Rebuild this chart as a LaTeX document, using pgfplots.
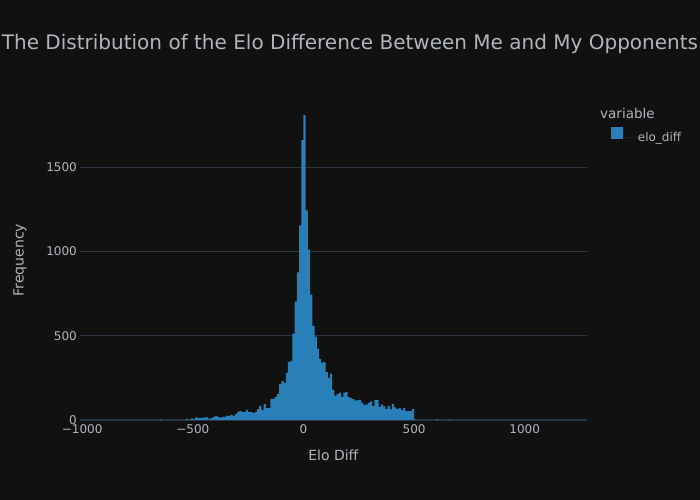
\documentclass[border=0pt]{standalone}
\usepackage{fontspec}
\setmainfont{DejaVu Sans}
\usepackage{pgfplots}
\pgfplotsset{compat=1.18}
\definecolor{bg}{HTML}{111111}
\definecolor{gridc}{HTML}{283442}
\definecolor{txt}{HTML}{B0B5BD}
\definecolor{barblue}{HTML}{2980B9}
\begin{document}
\begin{tikzpicture}
\fill[bg] (0bp,0bp) rectangle (700bp,500bp);
\useasboundingbox (0bp,0bp) rectangle (700bp,500bp);
\node[anchor=base, text=txt, font=\fontsize{20bp}{24bp}\selectfont, inner sep=0pt] at (350bp,450.7bp) {The Distribution of the Elo Difference Between Me and My Opponents};
\node[anchor=base, text=txt, font=\fontsize{14bp}{17bp}\selectfont, inner sep=0pt] at (333.3bp,39.3bp) {Elo Diff};
\node[anchor=base, rotate=90, text=txt, font=\fontsize{14bp}{17bp}\selectfont, inner sep=0pt] at (23.5bp,240bp) {Frequency};
\node[anchor=base west, text=txt, font=\fontsize{13.5bp}{16bp}\selectfont, inner sep=0pt] at (600bp,381.7bp) {variable};
\begin{axis}[
  at={(80bp,80bp)}, anchor=south west,
  scale only axis, width=506.7bp, height=320bp,
  xmin=-1010, xmax=1280, ymin=0, ymax=1898,
  axis line style={draw=none},
  major tick length=0pt,
  xtick={-1000,-500,0,500,1000},
  xticklabels={−1000,−500,0,500,1000},
  ytick={500,1000,1500},
  extra y ticks={0},
  extra y tick style={grid style={gridc, line width=2bp}},
  ymajorgrids,
  grid style={gridc, line width=1bp},
  scaled y ticks=false,
  /pgf/number format/1000 sep={},
  /pgf/number format/assume math mode=true,
  ticklabel style={text=txt, font=\fontsize{12bp}{14bp}\selectfont, inner sep=0pt},
  xticklabel style={anchor=north, yshift=-4bp},
  yticklabel style={anchor=east, xshift=-3bp},
  legend style={draw=none, fill=none, text=txt, font=\fontsize{12bp}{14bp}\selectfont,
    at={(axis description cs:1.048,0.891)}, anchor=west, inner sep=0pt,
    nodes={inner sep=0pt}},
  legend image code/.code={\path (0bp,0bp) -- (26.7bp,0bp);\fill[barblue] (0bp,-1.3bp) rectangle (12bp,10.7bp);},
]
\addplot[ybar interval, fill=barblue, draw=none] coordinates {
(-1010,1) (-1000,0) (-650,3) (-640,0)
(-530,6) (-520,0) (-510,10) (-500,4) (-490,16) (-480,12) (-470,12) (-460,12)
(-450,16) (-440,16) (-430,6) (-420,12) (-410,18) (-400,24) (-390,18) (-380,14)
(-370,18) (-360,18) (-350,24) (-340,24) (-330,30) (-320,24) (-310,36)
(-300,48) (-290,54) (-280,46) (-270,46) (-260,60) (-250,46) (-240,46) (-230,42)
(-220,48) (-210,65) (-200,83) (-190,60) (-180,95) (-170,71) (-160,71)
(-150,125) (-140,125) (-130,137) (-120,155) (-110,214) (-100,232) (-90,220)
(-80,280) (-70,345) (-60,351) (-50,512) (-40,702) (-30,875) (-20,1155) (-10,1660)
(0,1808) (10,1243) (20,1011) (30,743) (40,559) (50,494) (60,423) (70,363)
(80,340) (90,344) (100,285) (110,249) (120,274) (130,178) (140,144) (150,154)
(160,162) (170,136) (180,162) (190,166) (200,136) (210,130) (220,124) (230,117)
(240,117) (250,119) (260,103) (270,91) (280,91) (290,101) (300,111) (310,83)
(320,119) (330,119) (340,77) (350,91) (360,81) (370,65) (380,83) (390,65)
(400,95) (410,75) (420,65) (430,71) (440,59) (450,71) (460,53) (470,53)
(480,53) (490,65) (500,4) (510,0) (600,3) (610,0) (660,3) (670,0)
(1270,1) (1280,0)
};
\addlegendentry{elo\_diff}
\end{axis}
\end{tikzpicture}
\end{document}
